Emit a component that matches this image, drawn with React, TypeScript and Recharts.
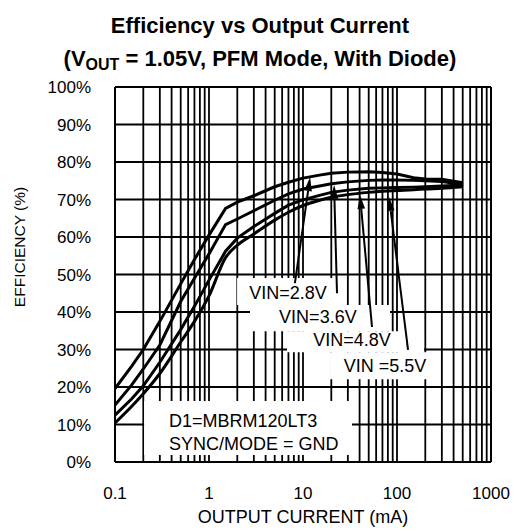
import React from 'react';
import {
  LineChart,
  Line,
  XAxis,
  YAxis,
  CartesianGrid,
  ReferenceArea,
  ReferenceLine,
  ReferenceDot,
} from 'recharts';

// output current (mA), shared by all curves
const currents = [0.1, 0.15, 0.2, 0.3, 0.5, 0.7, 1, 1.5, 2, 3, 5, 7, 10, 15, 20, 30, 50, 70, 100, 150, 200, 300, 500];

// efficiency (%) per input voltage
const eff28 = [19.6, 25.5, 30, 37.5, 47.5, 54, 60.5, 67.6, 69.3, 71, 73.4, 74.6, 75.7, 76.5, 77, 77.3, 77.4, 77.2, 76.8, 75.8, 75.5, 75.4, 74.5];
const eff36 = [15.2, 20.5, 24.8, 31.2, 42.8, 49, 55.5, 63.3, 64.8, 67, 69.8, 71.5, 72.8, 73.6, 74.2, 74.7, 75.1, 75.2, 75.2, 75.1, 75, 74.8, 74];
const eff48 = [12.5, 16.8, 20.3, 26.6, 35.3, 41.5, 48.5, 56.2, 59.7, 62.8, 66.3, 68.5, 69.9, 71.1, 71.9, 72.5, 73, 73.1, 73.2, 73.3, 73.4, 73.6, 73.9];
const eff55 = [10.4, 14.8, 18.2, 23.6, 32, 37.5, 44.3, 54.5, 57.8, 60.8, 64.5, 66.6, 68.4, 69.8, 70.6, 71.3, 71.9, 72.2, 72.4, 72.6, 72.8, 73, 73.4];

const xTicks = [0.1, 1, 10, 100, 1000];
const yTicks = [0, 10, 20, 30, 40, 50, 60, 70, 80, 90, 100];
const gridX = [0.1, 0.2, 0.3, 0.4, 0.5, 0.6, 0.7, 0.8, 0.9, 1, 2, 3, 4, 5, 6, 7, 8, 9, 10, 20, 30, 40, 50, 60, 70, 80, 90, 100, 200, 300, 400, 500, 600, 700, 800, 900, 1000];

// white boxes behind the notes (data units)
const boxes = [
  { x1: 1.99, x2: 28, y1: 41.9, y2: 49.1 },
  { x1: 2.73, x2: 84.3, y1: 34.9, y2: 41.9 },
  { x1: 6.76, x2: 194, y1: 29.3, y2: 34.9 },
  { x1: 19.4, x2: 236, y1: 22.1, y2: 29.3 },
  { x1: 0.204, x2: 33.2, y1: 1.9, y2: 16.3 },
];

const notes = [
  { text: 'VIN=2.8V', x: 6.92, y: 45.1, anchor: 'middle' },
  { text: 'VIN=3.6V', x: 14.4, y: 38.7, anchor: 'middle' },
  { text: 'VIN=4.8V', x: 33.2, y: 32.5, anchor: 'middle' },
  { text: 'VIN =5.5V', x: 74.5, y: 25.6, anchor: 'middle' },
  { text: 'D1=MBRM120LT3', x: 0.375, y: 11.0, anchor: 'start' },
  { text: 'SYNC/MODE = GND', x: 0.375, y: 4.8, anchor: 'start' },
];

// arrows: tail (x1,y1) -> head (x2,y2)
const arrows = [
  { x1: 8.2, y1: 47.7, x2: 11.9, y2: 76 },
  { x1: 23, y1: 45, x2: 21.4, y2: 73.9 },
  { x1: 54.2, y1: 36, x2: 40.4, y2: 71.2 },
  { x1: 131, y1: 29.9, x2: 82.2, y2: 70.7 },
];

const FONT = '"Liberation Sans", Arial, Helvetica, sans-serif';

const rows = currents.map((c, i) => ({
  current: c,
  v28: eff28[i],
  v36: eff36[i],
  v48: eff48[i],
  v55: eff55[i],
}));

function Arrow(props: any) {
  const { x1, y1, x2, y2 } = props;
  const dx = x2 - x1;
  const dy = y2 - y1;
  const len = Math.sqrt(dx * dx + dy * dy) || 1;
  const ux = dx / len;
  const uy = dy / len;
  const hl = 14;
  const hw = 3.8;
  const bx = x2 - ux * hl;
  const by = y2 - uy * hl;
  const pts = `${x2},${y2} ${bx - uy * hw},${by + ux * hw} ${bx + uy * hw},${by - ux * hw}`;
  return (
    <g>
      <line x1={x1} y1={y1} x2={bx} y2={by} stroke="#000" strokeWidth={2} />
      <polygon points={pts} fill="#000" />
    </g>
  );
}

function noteLabel(text: string, anchor: string) {
  return (p: any) => {
    const vb = p.viewBox || {};
    const x = vb.x + (vb.width || 0) / 2;
    const y = vb.y + (vb.height || 0) / 2;
    return (
      <text
        x={x}
        y={y}
        textAnchor={anchor}
        dominantBaseline="central"
        fontSize={18}
        fontFamily={FONT}
        fill="#000"
      >
        {text}
      </text>
    );
  };
}

export default function App() {
  return (
    <div style={{ position: 'absolute', left: 0, top: 0, width: 514, height: 531, background: '#fff', fontFamily: FONT }}>
      <div
        style={{
          position: 'absolute',
          left: 0,
          top: 9,
          width: 520,
          textAlign: 'center',
          fontWeight: 'bold',
          fontSize: 22,
          lineHeight: '33px',
          color: '#000',
        }}
      >
        Efficiency vs Output Current
        <br />
        (V<sub style={{ fontSize: 16, lineHeight: 0, verticalAlign: -4 }}>OUT</sub> = 1.05V, PFM Mode, With Diode)
      </div>

      <LineChart
        width={514}
        height={531}
        data={rows}
        margin={{ top: 87, right: 23, bottom: 29, left: 55 }}
      >
        <CartesianGrid
          stroke="#000"
          strokeWidth={1.8}
          verticalValues={gridX}
          horizontalValues={yTicks}
          zIndex={-100}
        />
        {boxes.map((b, i) => (
          <ReferenceArea
            key={'b' + i}
            x1={b.x1}
            x2={b.x2}
            y1={b.y1}
            y2={b.y2}
            fill="#fff"
            fillOpacity={1}
            stroke="none"
            ifOverflow="visible"
            zIndex={50}
          />
        ))}
        <ReferenceLine x={1000} stroke="#000" strokeWidth={2} zIndex={60} />
        <ReferenceLine y={100} stroke="#000" strokeWidth={2} zIndex={60} />
        <XAxis
          dataKey="current"
          type="number"
          scale="log"
          domain={[0.1, 1000]}
          ticks={xTicks}
          tickFormatter={(v) => String(v)}
          allowDataOverflow
          height={40}
          tickSize={0}
          tickMargin={25}
          axisLine={{ stroke: '#000', strokeWidth: 2 }}
          tick={{ fill: '#000', fontSize: 17, fontFamily: FONT }}
          interval={0}
        />
        <YAxis
          type="number"
          domain={[0, 100]}
          ticks={yTicks}
          tickFormatter={(v) => v + '%'}
          width={60}
          tickSize={0}
          tickMargin={24}
          axisLine={{ stroke: '#000', strokeWidth: 2 }}
          tick={{ fill: '#000', fontSize: 17, fontFamily: FONT }}
          interval={0}
        />
        <Line type="linear" dataKey="v28" stroke="#000" strokeWidth={3} dot={false} isAnimationActive={false} zIndex={400} />
        <Line type="linear" dataKey="v36" stroke="#000" strokeWidth={3} dot={false} isAnimationActive={false} zIndex={400} />
        <Line type="linear" dataKey="v48" stroke="#000" strokeWidth={3} dot={false} isAnimationActive={false} zIndex={400} />
        <Line type="monotone" dataKey="v55" stroke="#000" strokeWidth={3} dot={false} isAnimationActive={false} zIndex={400} />
        {arrows.map((a, i) => (
          <ReferenceLine
            key={'a' + i}
            segment={[
              { x: a.x1, y: a.y1 },
              { x: a.x2, y: a.y2 },
            ]}
            shape={Arrow}
            ifOverflow="visible"
            zIndex={450}
          />
        ))}
        {notes.map((n, i) => (
          <ReferenceDot
            key={'n' + i}
            x={n.x}
            y={n.y}
            r={1}
            fill="none"
            stroke="none"
            ifOverflow="visible"
            label={{ content: noteLabel(n.text, n.anchor) }}
            zIndex={2000}
          />
        ))}
      </LineChart>

      <div
        style={{
          position: 'absolute',
          left: 115,
          width: 376,
          top: 507,
          textAlign: 'center',
          fontSize: 18,
          lineHeight: '20px',
          color: '#000',
        }}
      >
        OUTPUT CURRENT (mA)
      </div>
      <div
        style={{
          position: 'absolute',
          left: 20,
          top: 247,
          width: 0,
          height: 0,
        }}
      >
        <div
          style={{
            position: 'absolute',
            left: -100,
            top: -10,
            width: 200,
            textAlign: 'center',
            fontSize: 15.5,
            lineHeight: '20px',
            color: '#000',
            transform: 'rotate(-90deg)',
            whiteSpace: 'nowrap',
          }}
        >
          EFFICIENCY (%)
        </div>
      </div>
    </div>
  );
}
